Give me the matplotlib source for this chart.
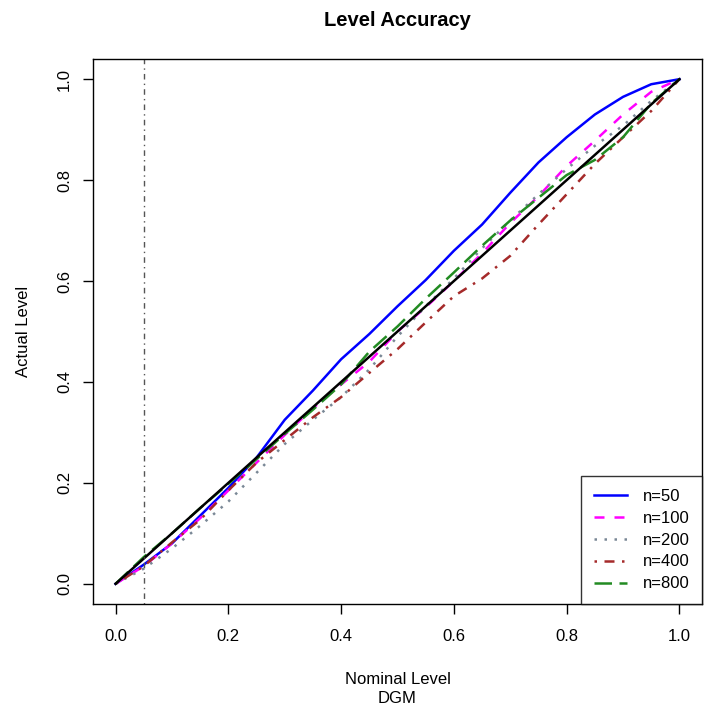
import numpy as np
import matplotlib
matplotlib.use("Agg")
import matplotlib.pyplot as plt

plt.rcParams["font.family"] = ["Liberation Sans", "DejaVu Sans"]

# nominal levels and the actual rejection levels for each sample size
nominal = [0.00, 0.05, 0.10, 0.15, 0.20, 0.25, 0.30, 0.35, 0.40, 0.45, 0.50,
           0.55, 0.60, 0.65, 0.70, 0.75, 0.80, 0.85, 0.90, 0.95, 1.00]

actual_n50 = [0.000, 0.038, 0.080, 0.135, 0.190, 0.250, 0.325, 0.383, 0.445, 0.495, 0.550,
              0.602, 0.660, 0.712, 0.775, 0.835, 0.885, 0.930, 0.965, 0.990, 1.000]
actual_n100 = [0.000, 0.035, 0.080, 0.130, 0.185, 0.240, 0.295, 0.348, 0.395, 0.440, 0.500,
               0.548, 0.600, 0.655, 0.715, 0.768, 0.828, 0.878, 0.930, 0.975, 1.000]
actual_n200 = [0.000, 0.030, 0.070, 0.115, 0.163, 0.220, 0.277, 0.325, 0.370, 0.425, 0.490,
               0.550, 0.605, 0.665, 0.720, 0.772, 0.822, 0.868, 0.908, 0.957, 1.000]
actual_n400 = [0.000, 0.035, 0.082, 0.127, 0.185, 0.240, 0.285, 0.330, 0.370, 0.418, 0.465,
               0.518, 0.570, 0.605, 0.650, 0.712, 0.772, 0.832, 0.885, 0.937, 1.000]
actual_n800 = [0.000, 0.053, 0.100, 0.150, 0.198, 0.247, 0.297, 0.345, 0.395, 0.460, 0.510,
               0.565, 0.617, 0.670, 0.720, 0.765, 0.810, 0.840, 0.885, 0.952, 1.000]

labels = ["n=50", "n=100", "n=200", "n=400", "n=800"]
alpha_level = 0.05

fig = plt.figure(figsize=(7.05, 7.15), dpi=100)
ax = fig.add_axes([93 / 705, 1 - 604 / 715, (702 - 93) / 705, (604 - 59) / 715])

lw = 1.8
series = [actual_n50, actual_n100, actual_n200, actual_n400, actual_n800]
styles = [
    dict(color="blue", linestyle="-"),
    dict(color="magenta", linestyle=(0, (4, 4))),
    dict(color="#7a8896", linestyle=(0, (1, 3))),
    dict(color="#a52a2a", linestyle=(0, (1, 3, 4, 3))),
    dict(color="#228b22", linestyle=(0, (7, 3))),
]
for y, st, lab in zip(series, styles, labels):
    ax.plot(nominal, y, lw=lw, label=lab, **st)

# 45 degree reference line and the 5% level
ax.plot([0, 1], [0, 1], color="black", lw=lw)
ax.axvline(alpha_level, color="#555555", lw=1.0, linestyle=(0, (1, 3, 4, 3)))

ax.set_xlim(-0.04, 1.04)
ax.set_ylim(-0.04, 1.04)
ticks = [0.0, 0.2, 0.4, 0.6, 0.8, 1.0]
ax.set_xticks(ticks)
ax.set_yticks(ticks)
ax.set_xticklabels([f"{t:.1f}" for t in ticks])
ax.set_yticklabels([f"{t:.1f}" for t in ticks], rotation=90, va="center")
ax.tick_params(length=7, width=1, labelsize=12)
ax.tick_params(axis="x", pad=11)
ax.tick_params(axis="y", pad=8)
for sp in ax.spines.values():
    sp.set_linewidth(1.0)

ax.set_title("Level Accuracy", fontsize=14.5, fontweight="bold", pad=24)
ax.set_xlabel("Nominal Level\nDGM", fontsize=12, labelpad=20, linespacing=1.35)
ax.set_ylabel("Actual Level", fontsize=12, labelpad=19)

leg = ax.legend(loc="lower right", borderaxespad=0, fontsize=12, frameon=True,
                fancybox=False, edgecolor="black", handlelength=2.0,
                borderpad=0.76, labelspacing=0.41, handletextpad=0.9)
leg.get_frame().set_linewidth(1.0)

fig.savefig("out.png", dpi=100)
